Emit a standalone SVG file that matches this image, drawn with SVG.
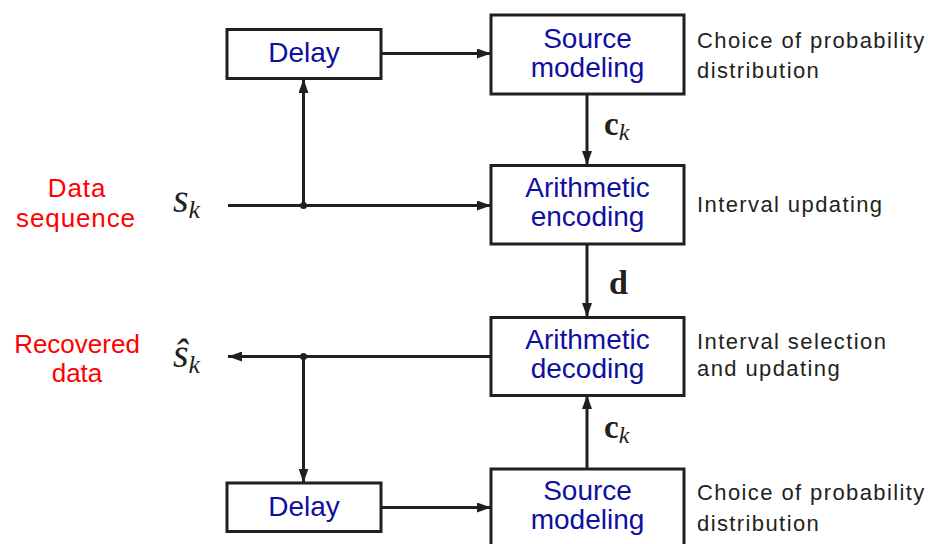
<svg xmlns="http://www.w3.org/2000/svg" width="928" height="544" viewBox="0 0 928 544">
<style>
.box{fill:#fff;stroke:#231f20;stroke-width:3}
.lbl{font-family:"Liberation Sans",Arial,sans-serif;font-size:28px;fill:#0f0fa0;text-anchor:middle}
.note{font-family:"Liberation Sans",Arial,sans-serif;font-size:22px;fill:#231f20;letter-spacing:1.4px}
.red{font-family:"Liberation Sans",Arial,sans-serif;font-size:26px;fill:#ff0000;text-anchor:middle}
.math{font-family:"Liberation Serif","Times New Roman",serif;fill:#231f20}
.ln{fill:none;stroke:#231f20;stroke-width:3}
</style>
<defs>
<marker id="ah" markerUnits="userSpaceOnUse" markerWidth="14" markerHeight="10" refX="14" refY="5" orient="auto">
<path d="M0,0 L14,5 L0,10 z" fill="#231f20"/>
</marker>
</defs>
<rect width="928" height="544" fill="#fff"/>

<g id="connectors">
<line class="ln" x1="381" y1="53.5" x2="491" y2="53.5" marker-end="url(#ah)"/>
<line class="ln" x1="228" y1="205.5" x2="491" y2="205.5" marker-end="url(#ah)"/>
<line class="ln" x1="303.5" y1="205.5" x2="303.5" y2="79" marker-end="url(#ah)"/>
<line class="ln" x1="587" y1="94" x2="587" y2="165" marker-end="url(#ah)"/>
<line class="ln" x1="587" y1="244" x2="587" y2="317" marker-end="url(#ah)"/>
<line class="ln" x1="491" y1="356.5" x2="228" y2="356.5" marker-end="url(#ah)"/>
<line class="ln" x1="303.5" y1="356.5" x2="303.5" y2="482.5" marker-end="url(#ah)"/>
<line class="ln" x1="381" y1="507.5" x2="491" y2="507.5" marker-end="url(#ah)"/>
<line class="ln" x1="587" y1="469" x2="587" y2="395" marker-end="url(#ah)"/>
<circle cx="303.5" cy="205.5" r="3.5" fill="#231f20"/>
<circle cx="303.5" cy="356.5" r="3.5" fill="#231f20"/>
<text class="math" x="604" y="135" font-size="33" font-weight="bold">c<tspan font-weight="normal" font-style="italic" font-size="24" dy="5">k</tspan></text>
<text class="math" x="609" y="294" font-size="34" font-weight="bold">d</text>
<text class="math" x="604" y="437.5" font-size="33" font-weight="bold">c<tspan font-weight="normal" font-style="italic" font-size="24" dy="5">k</tspan></text>
</g>

<g id="delay-top">
<rect class="box" x="227" y="29.5" width="154" height="49"/>
<text class="lbl" x="304" y="62">Delay</text>
</g>

<g id="source-modeling-top">
<rect class="box" x="491" y="15" width="193" height="79"/>
<text class="lbl" x="587.5" y="48">Source</text>
<text class="lbl" x="587.5" y="77">modeling</text>
<text class="note" x="697" y="48">Choice of probability</text>
<text class="note" x="697" y="78">distribution</text>
</g>

<g id="arithmetic-encoding">
<rect class="box" x="491" y="165.5" width="193" height="78.5"/>
<text class="lbl" x="587.5" y="197">Arithmetic</text>
<text class="lbl" x="587.5" y="226">encoding</text>
<text class="note" x="697" y="212">Interval updating</text>
</g>

<g id="arithmetic-decoding">
<rect class="box" x="491" y="317.5" width="193" height="78"/>
<text class="lbl" x="587.5" y="348.5">Arithmetic</text>
<text class="lbl" x="587.5" y="378">decoding</text>
<text class="note" x="697" y="349">Interval selection</text>
<text class="note" x="697" y="376">and updating</text>
</g>

<g id="source-modeling-bottom">
<rect class="box" x="491" y="469" width="193" height="82"/>
<text class="lbl" x="587.5" y="499.5">Source</text>
<text class="lbl" x="587.5" y="529">modeling</text>
<text class="note" x="697" y="500">Choice of probability</text>
<text class="note" x="697" y="531">distribution</text>
</g>

<g id="delay-bottom">
<rect class="box" x="227" y="483" width="154" height="48.5"/>
<text class="lbl" x="304" y="516">Delay</text>
</g>

<g id="data-sequence">
<text class="red" x="77" y="197" font-size="24" letter-spacing="0.9">Data</text>
<text class="red" x="76" y="226.5" font-size="24" letter-spacing="0.9">sequence</text>
<text class="math" x="173" y="212" font-size="40" font-style="italic">s<tspan font-size="26" dy="6">k</tspan></text>
</g>

<g id="recovered-data">
<text class="red" x="77" y="352.5">Recovered</text>
<text class="red" x="77" y="382">data</text>
<text class="math" x="173" y="367" font-size="40" font-style="italic">ŝ<tspan font-size="26" dy="6">k</tspan></text>
</g>
</svg>
